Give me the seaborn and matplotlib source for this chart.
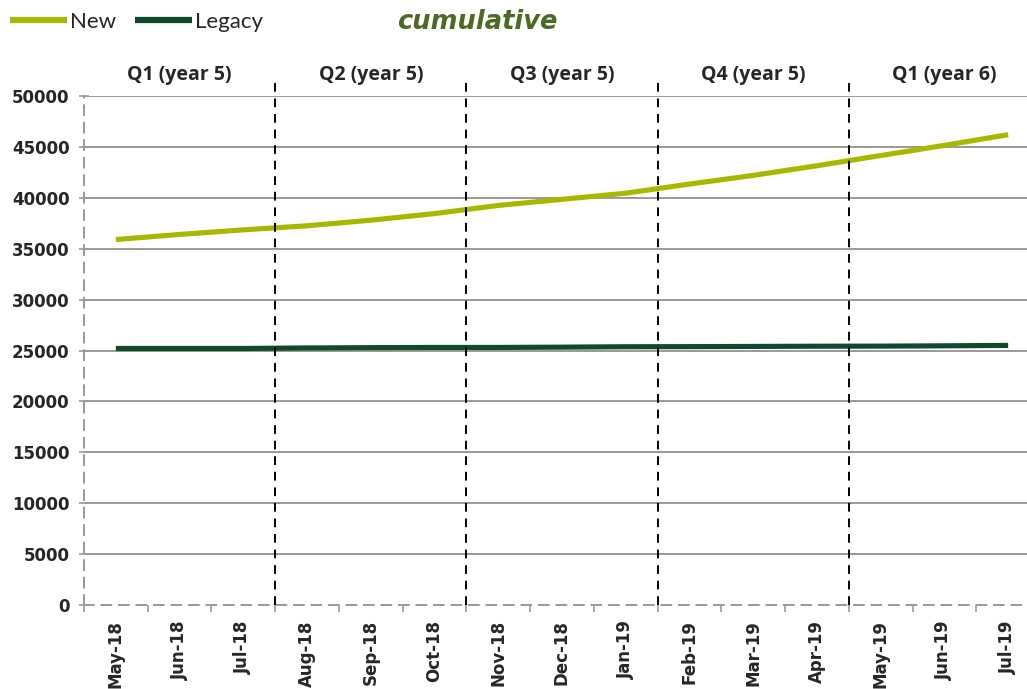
import numpy as np
import pandas as pd
import matplotlib
matplotlib.use("Agg")
import matplotlib.pyplot as plt
import seaborn as sns
from matplotlib.lines import Line2D
from matplotlib.transforms import blended_transform_factory

# ---- data ----
months = ["May-18", "Jun-18", "Jul-18", "Aug-18", "Sep-18", "Oct-18", "Nov-18",
          "Dec-18", "Jan-19", "Feb-19", "Mar-19", "Apr-19", "May-19", "Jun-19", "Jul-19"]
new_vals = [35900, 36400, 36850, 37250, 37800, 38450, 39250, 39850, 40450,
            41350, 42200, 43150, 44150, 45150, 46200]
legacy_vals = [25200, 25200, 25200, 25250, 25280, 25300, 25300, 25330, 25370,
               25380, 25400, 25420, 25430, 25460, 25500]
quarters = ["Q1 (year 5)", "Q2 (year 5)", "Q3 (year 5)", "Q4 (year 5)", "Q1 (year 6)"]
y_ticks = [0, 5000, 10000, 15000, 20000, 25000, 30000, 35000, 40000, 45000, 50000]
series_names = ["New", "Legacy"]

NEW_C = "#A6B800"
LEG_C = "#0E4A2B"
GRID_C = "#999999"

sns.set_theme(style="white")
plt.rcParams['font.family'] = ['DejaVu Sans']

fig = plt.figure(figsize=(10.27, 6.89), dpi=100)
W, H = 1027, 689
ax = fig.add_axes([84 / W, 84 / H, 956 / W, 509 / H])

n = len(months)
df = pd.DataFrame({
    "pos": list(range(n)) * 2,
    "Value": new_vals + legacy_vals,
    "Series": ["New"] * n + ["Legacy"] * n,
})
sns.lineplot(data=df, x="pos", y="Value", hue="Series", hue_order=series_names,
             palette={"New": NEW_C, "Legacy": LEG_C}, linewidth=3.7,
             legend=False, ax=ax, sort=False, zorder=3)
for l in ax.lines:
    l.set_solid_capstyle("butt")

ax.set_xlim(-0.5, n - 0.5)
ax.set_ylim(0, 50000)

# horizontal grid
for yv in y_ticks[1:]:
    ax.axhline(yv, color=GRID_C, lw=1.4, zorder=1)

# spines
for s in ["top", "right"]:
    ax.spines[s].set_visible(False)
for s in ["left", "bottom"]:
    ax.spines[s].set_color(GRID_C)
    ax.spines[s].set_linewidth(1.4)
    ax.spines[s].set_linestyle((0, (5, 4)))
    ax.spines[s].set_zorder(2)

# y ticks
ax.set_yticks(y_ticks)
ax.set_yticklabels([str(v) for v in y_ticks], fontweight="bold", fontsize=12)
ax.tick_params(axis="y", which="major", direction="inout", length=7, width=1.2,
               color=GRID_C, pad=7, left=True)

# x ticks
ax.set_xticks(range(n))
ax.set_xticklabels(months, rotation=90, fontweight="bold", fontsize=12)
ax.tick_params(axis="x", which="major", length=0, pad=11)
ax.set_xticks(np.arange(-0.5, n, 1), minor=True)
ax.tick_params(axis="x", which="minor", direction="out", length=5, width=1.2,
               color=GRID_C, bottom=True)
ax.set_xlabel("")
ax.set_ylabel("")

# quarter dividers and labels
trans = blended_transform_factory(ax.transData, ax.transAxes)
for q in range(1, len(quarters)):
    xq = 3 * q - 0.5
    ax.plot([xq, xq], [0, 1.028], transform=trans, color="black", lw=1.4,
            ls=(0, (4.5, 3.5)), clip_on=False, zorder=4)
for q, lab in enumerate(quarters):
    ax.text(3 * q + 1, 1.041, lab, transform=trans, ha="center", va="center",
            fontsize=14, fontweight="bold", family=["Open Sans", "DejaVu Sans"])

# legend
handles = [Line2D([], [], color=NEW_C, lw=4.5, solid_capstyle="butt"),
           Line2D([], [], color=LEG_C, lw=4.5, solid_capstyle="butt")]
fig.legend(handles, series_names, loc="center left",
           bbox_to_anchor=(10 / W, 1 - 22 / H), ncol=2, frameon=False,
           borderpad=0, borderaxespad=0, handlelength=2.57, handletextpad=0.14,
           columnspacing=0.85, prop={"family": ["Lato", "DejaVu Sans"], "size": 16})

fig.text(477 / W, 1 - 22 / H, "cumulative", ha="center", va="center",
         fontsize=18.5, fontweight="bold", fontstyle="italic", color="#4B6B25")

fig.savefig("out.png", dpi=100)
